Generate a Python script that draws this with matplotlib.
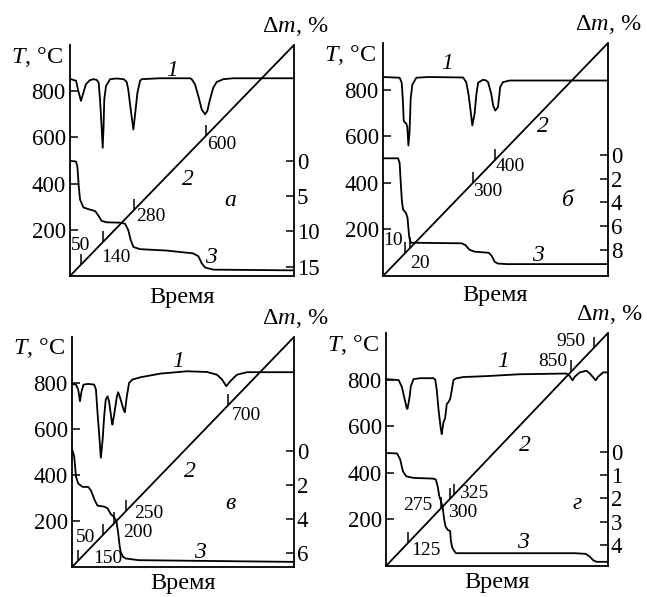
import numpy as np
import matplotlib
matplotlib.use("Agg")
import matplotlib.pyplot as plt

plt.rcParams['font.family'] = ['Liberation Serif', 'DejaVu Serif']
plt.rcParams['mathtext.fontset'] = 'custom'
plt.rcParams['mathtext.rm'] = 'Liberation Serif'
plt.rcParams['mathtext.it'] = 'Liberation Serif:italic'

# ---------------- data ----------------
# heating programme (curve 2): time (arb. units, 0..100) vs temperature, °C
prog_time = [0, 100]
prog_temp = [0, 1000]

T_ticks = [200, 400, 600, 800]

# panel а
a_dta_t = [0.5, 2.7, 3.7, 4.9, 6.0, 7.1, 8.9, 10.4, 11.9, 12.8, 13.4, 14.1, 14.6, 15.0, 15.3, 16.1, 17.9, 20.8,
           24.0, 25.3, 26.0, 27.1, 28.3, 29.3, 30.1, 31.3, 32.0, 40.0, 53.6, 54.3, 55.8, 57.3, 58.8, 60.3, 61.3,
           62.5, 64.0, 65.5, 68.5, 72.9, 100]
a_dta_v = [852, 845, 801, 758, 794, 830, 848, 852, 849, 837, 765, 649, 555, 649, 765, 823, 852, 855,
           852, 840, 808, 721, 634, 721, 794, 845, 852, 856, 856, 852, 830, 779, 721, 700, 714,
           765, 816, 840, 852, 856, 856]
a_tg_t = [0.4, 2.7, 3.3, 3.9, 4.5, 6.0, 8.9, 11.2, 12.6, 14.1, 16.4, 22.3, 24.6, 26.0, 27.1, 28.3, 31.3, 43.2,
          55.0, 57.3, 58.8, 60.3, 64.0, 100]
a_tg_v = [0, 0.1, 0.8, 3.6, 5.5, 6.6, 6.9, 7.1, 7.7, 8.5, 8.7, 8.75, 8.9, 9.8, 11.2, 12.2, 12.5, 12.7,
          13.1, 13.5, 14.5, 15.1, 15.4, 15.5]
a_dm_ticks = [0, 5, 10, 15]
a_mark_t = [4.9, 14.6, 28.6, 60.7]
a_mark_lbl = ['50', '140', '280', '600']

# panel б
b_dta_t = [0, 7.4, 8.3, 8.8, 9.2, 9.6, 10.3, 10.8, 11.3, 11.8, 12.3, 13.0, 14.8, 20, 35.6, 37.0, 38.0, 38.8,
           39.7, 40.7, 41.5, 42.3, 44.4, 45.7, 46.7, 48.1, 49.0, 49.9, 51.1, 52.1, 53.3, 56.3, 100]
b_dta_v = [854, 851, 830, 760, 667, 660, 655, 640, 560, 620, 760, 820, 851, 854, 852, 832, 780, 720,
           646, 696, 780, 830, 842, 840, 832, 782, 730, 710, 725, 811, 832, 839, 839]
b_tg_t = [0, 6.7, 7.4, 7.9, 8.4, 8.9, 10.2, 10.9, 11.3, 11.7, 12.4, 35.0, 36.6, 38.5, 40.7, 47.0, 48.3, 49.6,
          51.0, 55.0, 100]
b_tg_v = [0.3, 0.3, 0.7, 2.4, 3.9, 4.6, 4.9, 5.3, 6.2, 7.0, 7.4, 7.45, 7.6, 8.0, 8.15, 8.25, 8.5, 9.0,
          9.15, 9.2, 9.2]
b_dm_ticks = [0, 2, 4, 6, 8]
b_mark_t = [9.8, 12.0, 40.0, 49.6]
b_mark_lbl = ['10', '20', '300', '400']

# panel в
v_dta_t = [0, 1.8, 2.8, 3.6, 4.3, 5.2, 7.3, 10.0, 10.8, 11.5, 12.3, 13.0, 13.8, 14.5, 15.2, 16.0, 16.7, 17.9,
           18.2, 19.0, 20.2, 20.8, 21.7, 23.2, 23.8, 24.7, 25.7, 27.2, 30.9, 39.9, 51.9, 60.8, 65.3, 67.6,
           69.5, 71.3, 74.3, 78.8, 100]
v_dta_v = [796, 793, 771, 721, 764, 793, 796, 793, 771, 670, 569, 475, 554, 656, 728, 742, 720, 635,
           619, 663, 740, 760, 735, 685, 673, 742, 800, 815, 825, 841, 851, 848, 836, 815,
           786, 808, 836, 847, 847]
v_tg_t = [0.3, 1.0, 1.8, 2.8, 4.8, 7.3, 8.5, 10.3, 11.5, 14.3, 16.0, 17.5, 18.8, 20.0, 20.8, 21.5, 22.0,
          23.0, 24.2, 30.0, 100]
v_tg_v = [0, 0.33, 1.5, 1.9, 2.1, 2.1, 2.3, 2.9, 3.2, 3.25, 3.35, 3.7, 3.85, 4.1, 4.8, 5.6, 5.95,
          6.2, 6.3, 6.4, 6.5]
v_dm_ticks = [0, 2, 4, 6]
v_mark_t = [2.7, 13.8, 19.0, 24.2, 70.3]
v_mark_lbl = ['50', '150', '200', '250', '700']

# panel г
g_dta_t = [0, 5.7, 7.2, 8.2, 9.4, 9.7, 10.6, 11.2, 12.4, 15.4, 21.4, 22.2, 22.9, 23.7, 24.7, 25.1, 25.9,
           26.6, 27.4, 28.1, 28.9, 29.6, 30.4, 31.9, 34.9, 45.4, 60.3, 81.3, 82.8, 84.0, 85.0, 87.3, 90.3,
           91.8, 94.5, 95.5, 97.8, 100]
g_dta_v = [802, 798, 767, 724, 675, 675, 724, 772, 802, 806, 806, 799, 752, 668, 587, 566, 618,
           633, 696, 703, 717, 752, 799, 806, 811, 815, 823, 826, 815, 797, 812, 831, 838,
           826, 797, 812, 831, 831]
g_tg_t = [0, 5.0, 6.4, 7.6, 9.1, 12.4, 21.4, 22.5, 23.3, 24.0, 25.5, 26.2, 26.8, 27.8, 28.9, 29.2, 29.8,
          30.7, 31.5, 45.0, 85.0, 90.0, 91.8, 93.3, 94.8, 100]
g_tg_v = [0.05, 0.07, 0.33, 0.83, 1.05, 1.12, 1.15, 1.2, 1.5, 1.9, 2.35, 2.9, 3.2, 3.35, 3.4, 3.8, 4.1,
          4.25, 4.35, 4.35, 4.35, 4.38, 4.5, 4.65, 4.72, 4.72]
g_dm_ticks = [0, 1, 2, 3, 4]
g_mark_t = [9.8, 24.8, 28.8, 30.6, 83.5, 93.6]
g_mark_lbl = ['125', '275', '300', '325', '850', '950']

panel_letters = ['а', 'б', 'в', 'г']

# ---------------- layout ----------------
W, H = 647, 597
fig = plt.figure(figsize=(W / 100, H / 100), dpi=100)

panels = [
    dict(box=(70, 45, 294, 276), dm_lim=(16.3, -16.4), dta=(a_dta_t, a_dta_v), tg=(a_tg_t, a_tg_v),
         dm_ticks=a_dm_ticks, mark_t=a_mark_t, mark_lbl=a_mark_lbl,
         offs=[(0, 19), (13, -15), (17, -7), (16, -9)],
         lbl1=(0.458, 0.889), lbl2=(0.527, 0.416), lbl3=(0.629, 0.082), letter=(0.714, 0.329), time_y=-0.095),
    dict(box=(383, 43, 608, 276), dm_lim=(10.2, -9.4), dta=(b_dta_t, b_dta_v), tg=(b_tg_t, b_tg_v),
         dm_ticks=b_dm_ticks, mark_t=b_mark_t, mark_lbl=b_mark_lbl,
         offs=[(-12, 13), (10, -15), (15, -9), (16, -6)],
         lbl1=(0.283, 0.913), lbl2=(0.712, 0.641), lbl3=(0.689, 0.090), letter=(0.822, 0.326), time_y=-0.085),
    dict(box=(72, 337, 294, 567), dm_lim=(6.8, -6.7), dta=(v_dta_t, v_dta_v), tg=(v_tg_t, v_tg_v),
         dm_ticks=v_dm_ticks, mark_t=v_mark_t, mark_lbl=v_mark_lbl,
         offs=[(8, 23), (5, -23), (24, -9), (23, -2), (18, -10)],
         lbl1=(0.477, 0.893), lbl2=(0.532, 0.414), lbl3=(0.577, 0.061), letter=(0.712, 0.278), time_y=-0.07),
    dict(box=(386, 333, 608, 566), dm_lim=(4.9, -5.1), dta=(g_dta_t, g_dta_v), tg=(g_tg_t, g_tg_v),
         dm_ticks=g_dm_ticks, mark_t=g_mark_t, mark_lbl=g_mark_lbl,
         offs=[(18, -7), (-23, 3), (13, -14), (20, 1), (-19, 10), (-23, 6)],
         lbl1=(0.527, 0.877), lbl2=(0.626, 0.519), lbl3=(0.617, 0.099), letter=(0.860, 0.270), time_y=-0.07),
]

LW = 1.3
TICK_FS = 16.5
TITLE_FS = 17.5
MARK_FS = 14
LBL_FS = 17

for i, p in enumerate(panels):
    l, t, r, b = p['box']
    ax = fig.add_axes([l / W, 1 - b / H, (r - l) / W, (b - t) / H])
    ax.set_xlim(0, 100)
    ax.set_ylim(0, 1000)
    ax.set_xticks([])
    ax.set_yticks(T_ticks)
    ax.tick_params(axis='y', direction='in', length=6, width=1.1, pad=3, labelsize=TICK_FS)
    for s in ['top', 'right']:
        ax.spines[s].set_visible(False)
    for s in ['left', 'bottom']:
        ax.spines[s].set_linewidth(1.3)

    ax2 = ax.twinx()
    ax2.set_ylim(*p['dm_lim'])
    ax2.set_yticks(p['dm_ticks'])
    ax2.tick_params(axis='y', direction='in', length=6, width=1.1, pad=2, labelsize=TICK_FS)
    for s in ['top', 'left', 'bottom']:
        ax2.spines[s].set_visible(False)
    ax2.spines['right'].set_linewidth(1.3)

    # curve 1 (DTA)
    ax.plot(p['dta'][0], p['dta'][1], color='k', lw=LW, solid_joinstyle='round')
    # curve 2 (temperature)
    ax.plot(prog_time, prog_temp, color='k', lw=LW)
    # curve 3 (TG)
    ax2.plot(p['tg'][0], p['tg'][1], color='k', lw=LW, solid_joinstyle='round')

    # temperature marks on curve 2
    mt = np.array(p['mark_t'])
    mT = np.interp(mt, prog_time, prog_temp)
    ax.plot(mt, mT, linestyle='none', marker=2, markersize=8, markeredgewidth=1.1, color='k')
    for x, y, lab, off in zip(mt, mT, p['mark_lbl'], p['offs']):
        ax.annotate(lab, (x, y), xytext=off, textcoords='offset pixels', ha='center', va='center',
                    fontsize=MARK_FS)

    # curve numbers & panel letter
    ax.text(*p['lbl1'], '1', transform=ax.transAxes, fontsize=LBL_FS, style='italic', ha='center', va='center')
    ax.text(*p['lbl2'], '2', transform=ax.transAxes, fontsize=LBL_FS, style='italic', ha='center', va='center')
    ax.text(*p['lbl3'], '3', transform=ax.transAxes, fontsize=LBL_FS, style='italic', ha='center', va='center')
    ax.text(*p['letter'], panel_letters[i], transform=ax.transAxes, fontsize=LBL_FS, style='italic',
            ha='center', va='center')

    # axis titles
    ax.text(-0.03, 0.95, r'$T$, °C', transform=ax.transAxes, fontsize=TITLE_FS, ha='right', va='center')
    ax.text(0.855, 1.08, r'Δ$m$, %', transform=ax.transAxes, fontsize=TITLE_FS, ha='left', va='center')
    ax.text(0.5, p['time_y'], 'Время', transform=ax.transAxes, fontsize=TITLE_FS, ha='center', va='center')

fig.savefig('out.png', dpi=100)
